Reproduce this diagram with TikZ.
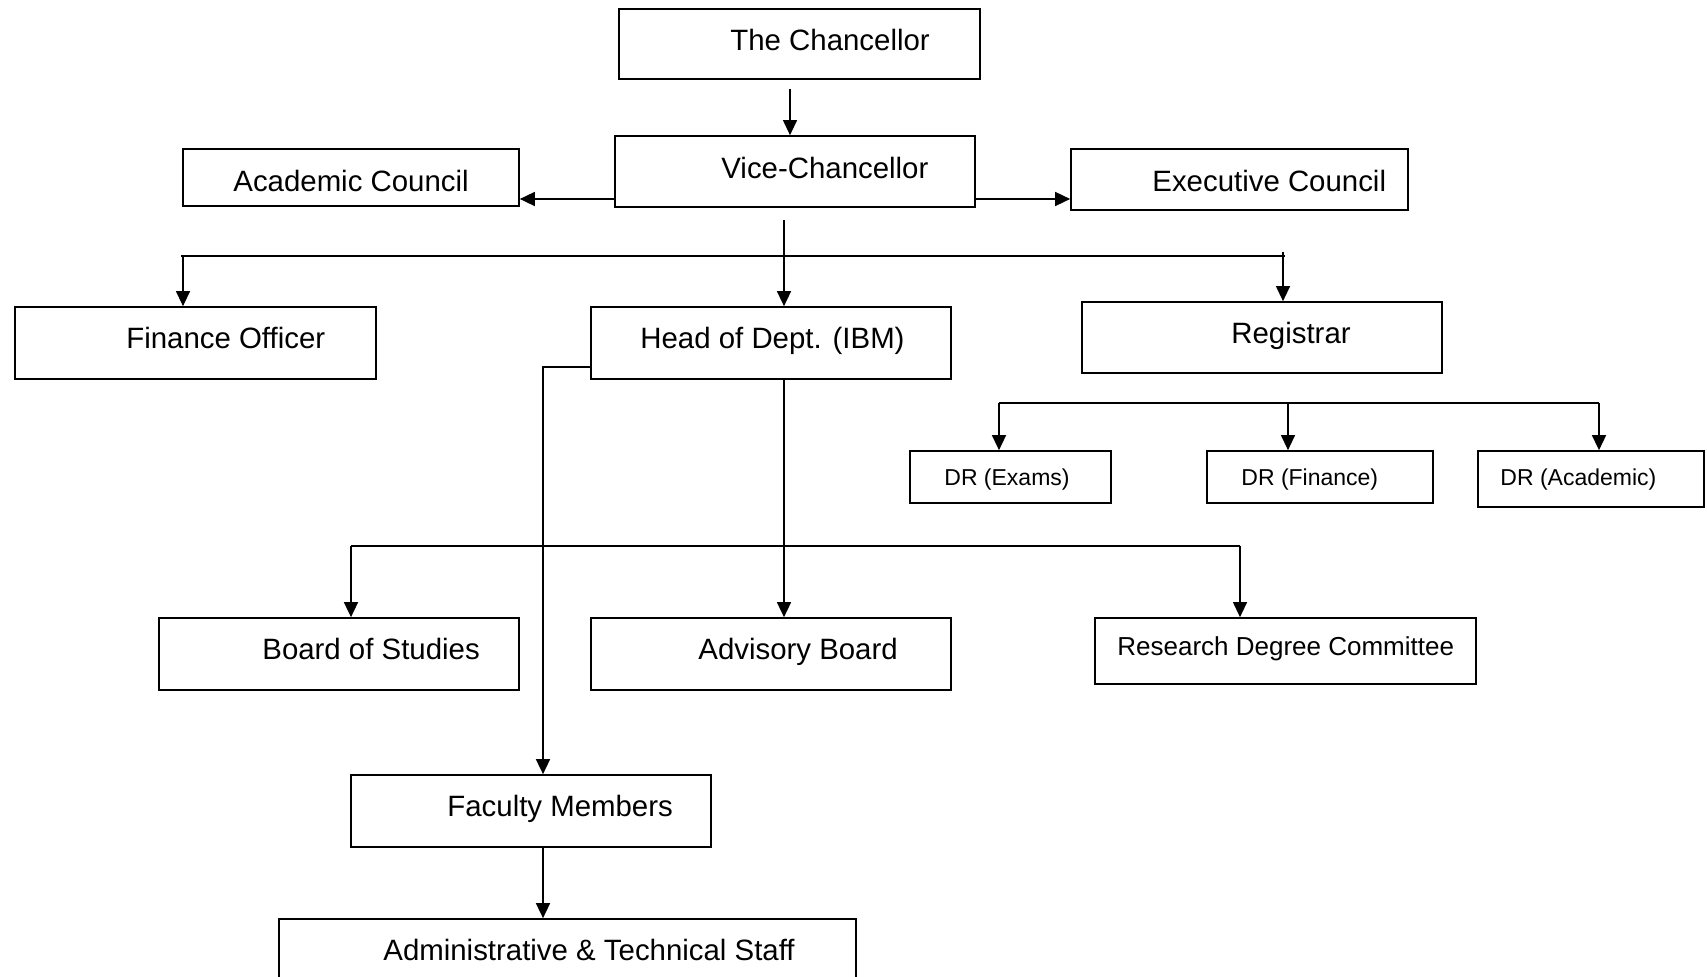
\documentclass[tikz,border=0pt]{standalone}
\usepackage{fontspec}
\setmainfont{Liberation Sans}
\usetikzlibrary{arrows.meta,calc}
\begin{document}
\begin{tikzpicture}[x=0.5pt,y=-0.5pt,
  box/.style={draw,line width=0.85pt,inner sep=0pt},
  lbl/.style={anchor=base west,inner sep=0pt,font=\fontsize{14.7}{17}\selectfont},
  slbl/.style={anchor=base west,inner sep=0pt,font=\fontsize{11.5}{14}\selectfont},
  mlbl/.style={anchor=base west,inner sep=0pt,font=\fontsize{13}{15}\selectfont},
  conn/.style={line width=0.8pt},
  thin/.style={line width=0.6pt},
  arr/.style={-{Triangle[length=7.5pt,width=7pt]}},
]
\clip (0,0) rectangle (1707,977);
\fill[white] (0,0) rectangle (1707,977);
% boxes
\node[box,minimum width=180.5pt,minimum height=35pt] (chan) at (799.5,44) {};
\node[box,minimum width=180pt,minimum height=35.5pt] (vc) at (795,171.5) {};
\node[box,minimum width=168pt,minimum height=28.5pt] (ac) at (351,177.5) {};
\node[box,minimum width=168.5pt,minimum height=30.5pt] (ec) at (1239.5,179.5) {};
\node[box,minimum width=180.5pt,minimum height=36pt] (fo) at (195.5,343) {};
\node[box,minimum width=180pt,minimum height=36pt] (hod) at (771,343) {};
\node[box,minimum width=180pt,minimum height=35.5pt] (reg) at (1262,337.5) {};
\node[box,minimum width=100.5pt,minimum height=26pt] (dre) at (1010.5,477) {};
\node[box,minimum width=113pt,minimum height=26pt] (drf) at (1320,477) {};
\node[box,minimum width=113pt,minimum height=28pt] (dra) at (1591,479) {};
\node[box,minimum width=180pt,minimum height=36pt] (bos) at (339,654) {};
\node[box,minimum width=180pt,minimum height=36pt] (ab) at (771,654) {};
\node[box,minimum width=190.5pt,minimum height=33pt] (rdc) at (1285.5,651) {};
\node[box,minimum width=180pt,minimum height=36pt] (fm) at (531,811) {};
\node[box,minimum width=288.5pt,minimum height=40pt] (ats) at (567.5,959) {};
% labels
\node[lbl] (chanT) at (730,51) {The Chancellor};
\node[lbl] (vcT) at (721,179) {Vice-Chancellor};
\node[lbl] (acT) at (233,192) {Academic Council};
\node[lbl] (ecT) at (1152,192) {Executive Council};
\node[lbl] (foT) at (126,349) {Finance Officer};
\node[lbl] (hodT) at (640,349) {Head of Dept. (IBM)};
\node[lbl] (regT) at (1231,344) {Registrar};
\node[slbl] (dreT) at (944,486) {DR (Exams)};
\node[slbl] (drfT) at (1241,486) {DR (Finance)};
\node[slbl] (draT) at (1500,486) {DR (Academic)};
\node[lbl] (bosT) at (262,660) {Board of Studies};
\node[lbl] (abT) at (698,660) {Advisory Board};
\node[mlbl] (rdcT) at (1117,656) {Research Degree Committee};
\node[lbl] (fmT) at (447,816) {Faculty Members};
\node[lbl] (atsT) at (383,960) {Administrative \& Technical Staff};
% connectors
\coordinate (c1) at ($(chan.south)+(-9.5,9)$);
\draw[thin,arr] (c1) -- (c1 |- vc.north);
\coordinate (c2) at ($(vc.west)+(0,27.5)$);
\draw[conn,arr] (c2) -- (c2 -| ac.east);
\coordinate (c3) at ($(vc.east)+(0,27.5)$);
\draw[conn,arr] (c3) -- (c3 -| ec.west);
\coordinate (c4) at ($(vc.south)+(-11,12)$);
\draw[conn,arr] (c4) -- (c4 |- hod.north);
\coordinate (busL) at (181,256);
\coordinate (busR) at (1285,256);
\draw[conn] (busL) -- (busR);
\coordinate (b1) at (183,256);
\draw[thin,arr] (b1) -- (b1 |- fo.north);
\coordinate (b2) at (1283,252);
\draw[thin,arr] (b2) -- (b2 |- reg.north);
% registrar bus
\coordinate (rbL) at (999,403);
\coordinate (rbM) at (1288,403);
\coordinate (rbR) at (1599,403);
\draw[conn] (rbL) -- (rbR);
\draw[conn,arr] (rbL) -- (rbL |- dre.north);
\draw[thin,arr] (rbM) -- (rbM |- drf.north);
\draw[conn,arr] (rbR) -- (rbR |- dra.north);
% HoD
\coordinate (h1) at ($(hod.south)+(13,0)$);
\draw[conn,arr] (h1) -- (h1 |- ab.north);
\coordinate (h2) at ($(hod.west)+(0,24)$);
\coordinate (h3) at ($(fm.north)+(12,0)$);
\draw[conn,arr] (h2) -| (h3);
% lower bus
\coordinate (lbL) at (351,546);
\coordinate (lbR) at (1240,546);
\draw[conn] (lbL) -- (lbR);
\draw[conn,arr] (lbL) -- (lbL |- bos.north);
\draw[thin,arr] (lbR) -- (lbR |- rdc.north);
% faculty to staff
\coordinate (f1) at ($(fm.south)+(12,0)$);
\draw[conn,arr] (f1) -- (f1 |- ats.north);
\end{tikzpicture}
\end{document}
